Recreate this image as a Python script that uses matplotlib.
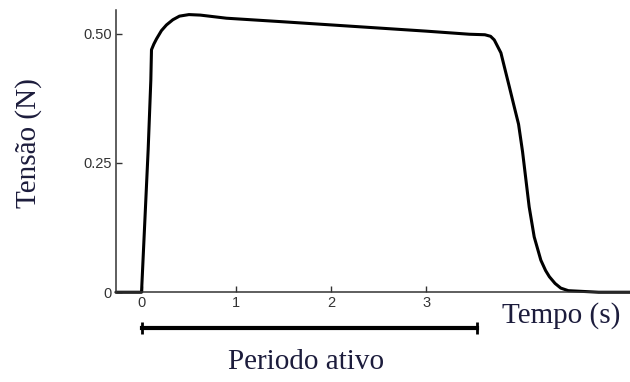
import matplotlib.pyplot as plt

# valores
tempo = [-0.27, 0, 0.07, 0.098, 0.105, 0.13, 0.158, 0.21, 0.263, 0.33, 0.40,
         0.50, 0.62, 0.895, 1.5, 2.0, 2.5, 3.0, 3.456, 3.62, 3.68, 3.719, 3.789,
         3.824, 3.877, 3.929, 3.975, 4.017, 4.053, 4.087, 4.14, 4.21, 4.26,
         4.30, 4.36, 4.42, 4.50, 4.82, 5.15]
tensao = [0, 0, 0.276, 0.41, 0.469, 0.480, 0.490, 0.506, 0.517, 0.527, 0.534,
          0.537, 0.536, 0.530, 0.523, 0.517, 0.511, 0.505, 0.499, 0.498, 0.495,
          0.488, 0.463, 0.437, 0.398, 0.359, 0.325, 0.272, 0.217, 0.165, 0.107,
          0.062, 0.042, 0.030, 0.017, 0.008, 0.003, 0.0, 0.0]
periodo_ativo = [0, 3.54]
xticks = [0, 1, 2, 3]
yticks = [0, 0.25, 0.50]
ytick_labels = ['0', '0.25', '0.50']

fig = plt.figure(figsize=(6.3, 3.82), dpi=100)
ax = fig.add_axes([0.184, 0.235, 0.816, 0.739])

ax.plot(tempo, tensao, color='black', lw=2.2, solid_joinstyle='round',
        solid_capstyle='round', clip_on=False)

# barra do periodo ativo
ax.plot(periodo_ativo, [-0.07, -0.07], color='black', lw=3, clip_on=False)
ax.plot(periodo_ativo, [-0.07, -0.07], color='black', lw=0, marker='|',
        markersize=8, markeredgewidth=2, clip_on=False)

ax.set_xlim(-0.27, 5.15)
ax.set_ylim(0, 0.546)
ax.spines['top'].set_visible(False)
ax.spines['right'].set_visible(False)
for s in ['left', 'bottom']:
    ax.spines[s].set_color('#333333')
    ax.spines[s].set_linewidth(1.1)

ax.set_xticks(xticks)
ax.set_yticks(yticks)
ax.set_yticklabels(ytick_labels)
ax.tick_params(direction='in', length=4, width=1, colors='#333333',
               labelsize=10.5, pad=3)
for lab in ax.get_xticklabels() + ax.get_yticklabels():
    lab.set_family('Liberation Sans')

fig.text(0.045, 0.625, 'Tensão (N)', rotation=90, ha='center', va='center',
         family='Liberation Serif', fontsize=21, color='#1c1c3c')
fig.text(0.89, 0.173, 'Tempo (s)', ha='center', va='center',
         family='Liberation Serif', fontsize=21, color='#1c1c3c')
fig.text(0.486, 0.052, 'Periodo ativo', ha='center', va='center',
         family='Liberation Serif', fontsize=21, color='#1c1c3c')

fig.savefig('out.png', dpi=100)
